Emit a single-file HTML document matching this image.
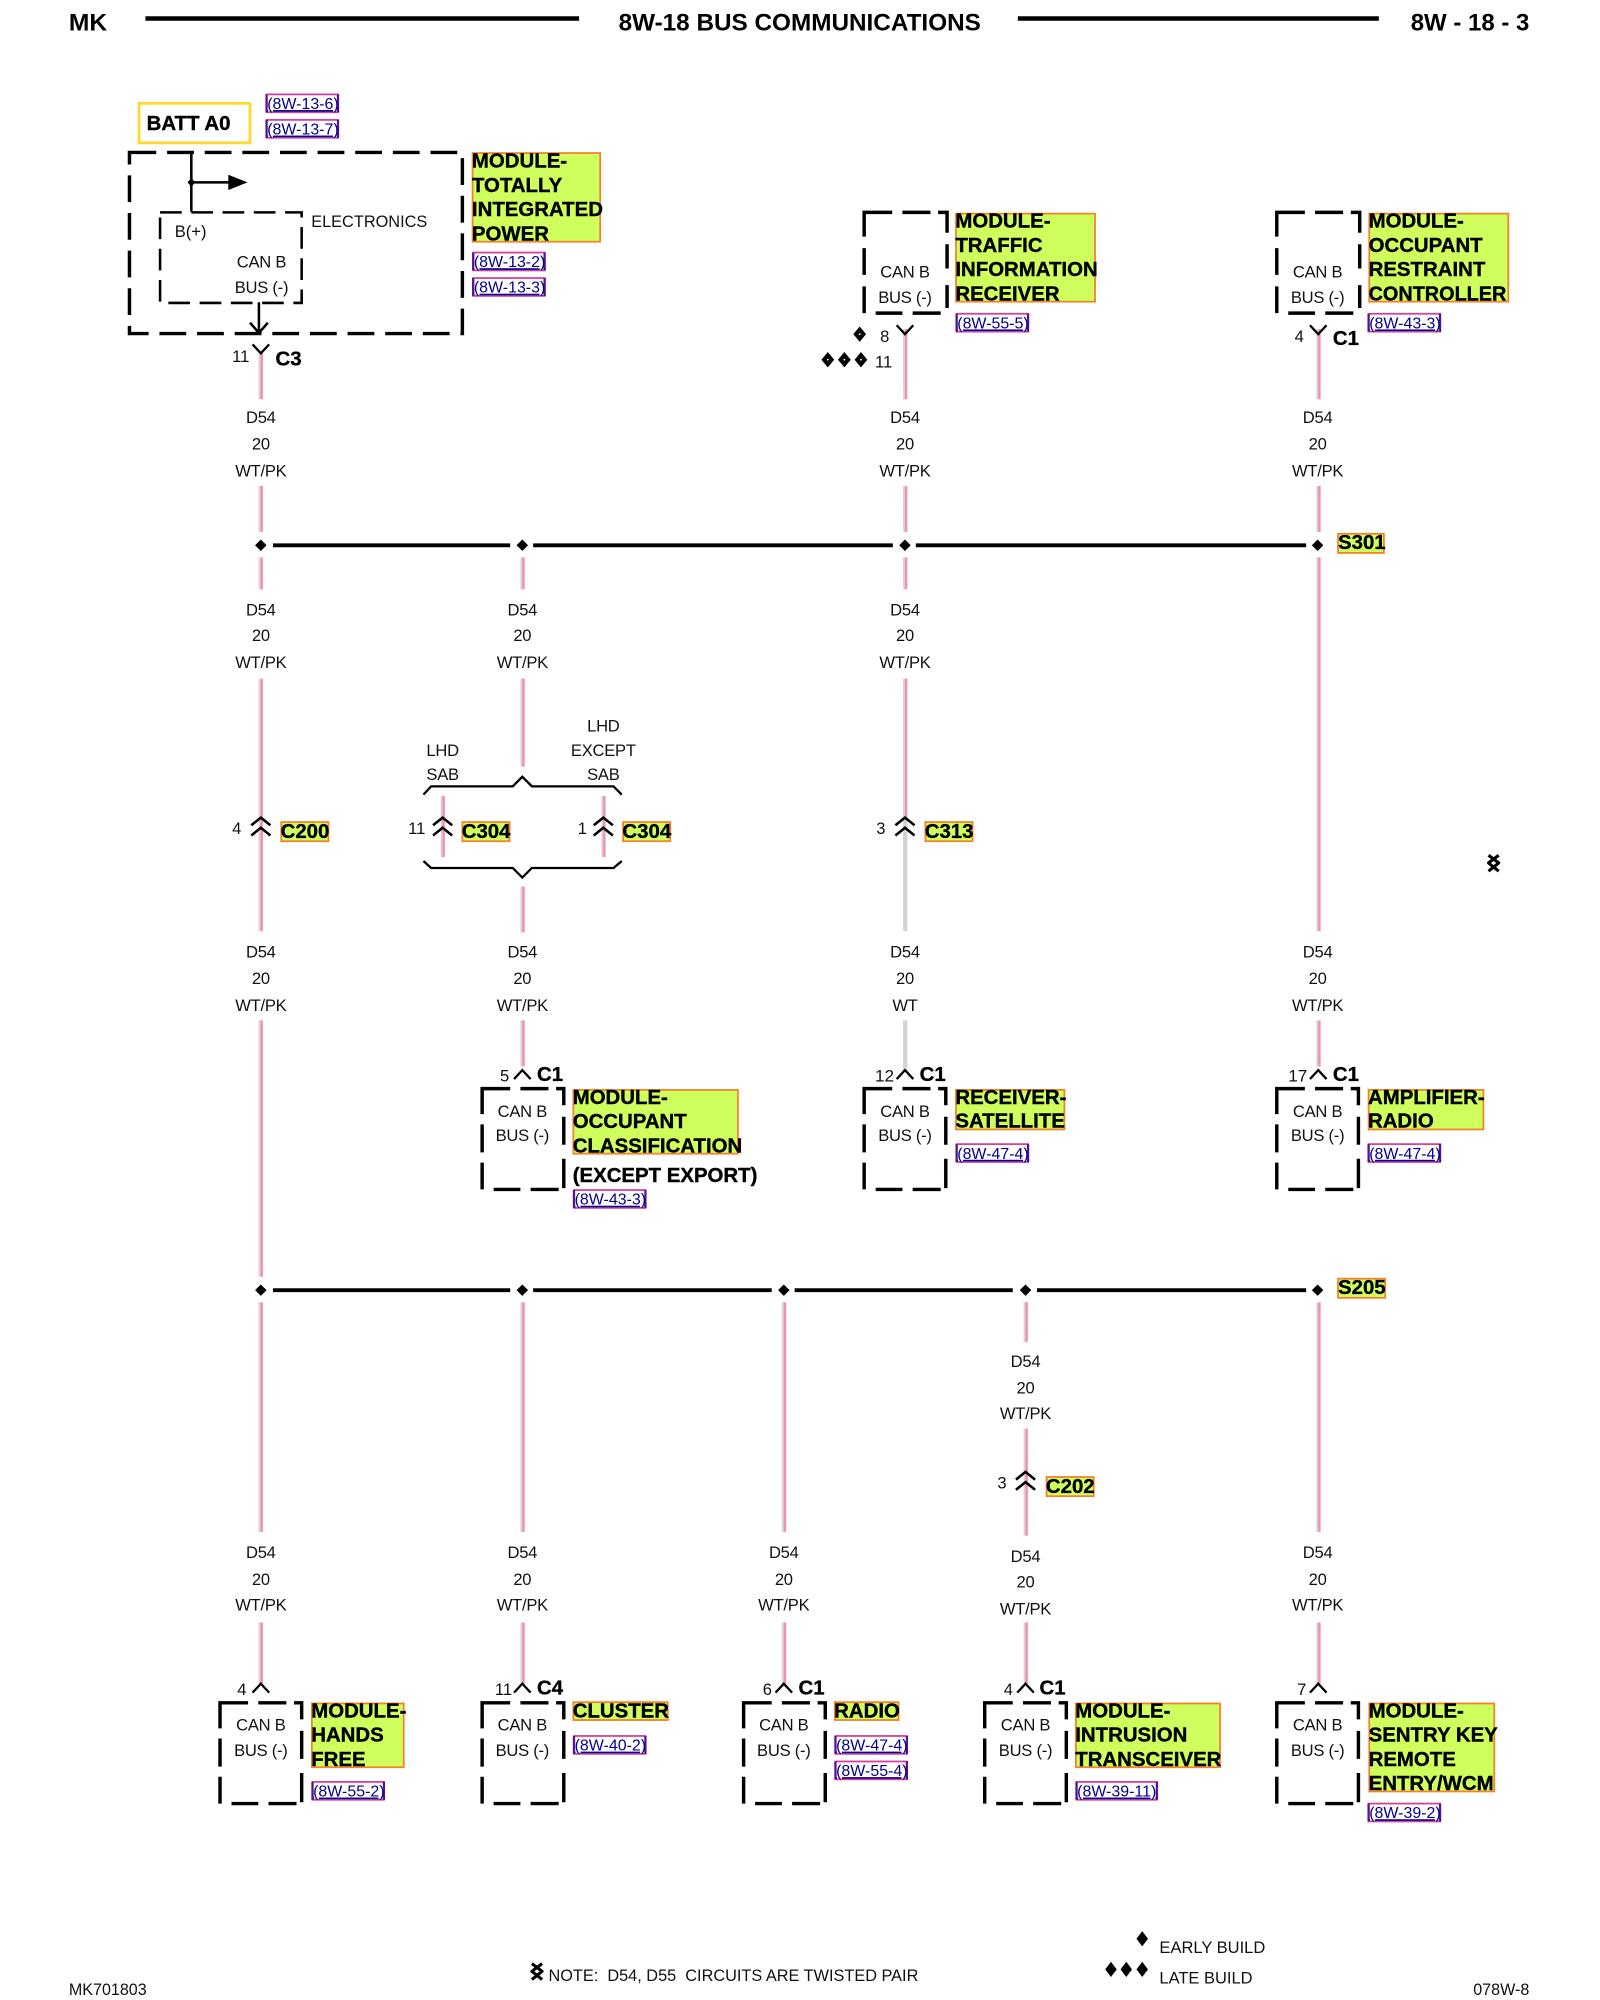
<!DOCTYPE html>
<html><head><meta charset="utf-8"><title>8W-18 Bus Communications</title>
<style>
html,body{margin:0;padding:0;background:#fff}
svg{display:block}
text{font-family:"Liberation Sans",sans-serif;fill:#111}
.l{font-size:13px;text-anchor:middle;letter-spacing:-.2px;transform:translateY(-.4px)}
.n{font-size:13px}
.m{font-size:16px;font-weight:bold;fill:#000;stroke:#000;stroke-width:.3;transform:translateY(-.5px)}
.c{font-size:16px;font-weight:bold;fill:#000;stroke:#000;stroke-width:.25;transform:translateY(-.5px)}
.h{font-size:19px;font-weight:bold;fill:#000}
.hl{fill:#ceff5c;stroke:#f5822a;stroke-width:1.4}
.r{font-size:12.5px;fill:#00008a;text-decoration:underline}
.rb{fill:#fff;stroke:#d83fa0;stroke-width:1.4}
.rs{stroke:#5a1090;stroke-width:1.8;fill:none}
.d{fill:none;stroke:#000;stroke-width:2.7}
.d2{fill:none;stroke:#000;stroke-width:2}
.th{fill:none;stroke:#000;stroke-width:1.8}
.bus{stroke:#000;stroke-width:3;fill:none}
.wg{stroke:#dcd2d6;stroke-width:1.6}
.wp{stroke:#f48fae;stroke-width:1.9}
.wy{stroke:#d2d2d2;stroke-width:3.4}
</style></head><body>
<svg xmlns="http://www.w3.org/2000/svg" width="1600" height="2000" viewBox="0 0 1254.4 1568">
<rect x="0" y="0" width="1254.4" height="1568" fill="#fff"/>

<!-- header -->
<text class="h" x="54" y="24" textLength="30" lengthAdjust="spacingAndGlyphs">MK</text>
<line class="bus" x1="114" y1="14.5" x2="454" y2="14.5" style="stroke-width:3.5"/>
<text class="h" x="485" y="24" textLength="284" lengthAdjust="spacingAndGlyphs">8W-18 BUS COMMUNICATIONS</text>
<line class="bus" x1="798" y1="14.5" x2="1081" y2="14.5" style="stroke-width:3.5"/>
<text class="h" x="1106" y="24" textLength="93" lengthAdjust="spacingAndGlyphs">8W - 18 - 3</text>

<!-- wires pink -->
<g>
<path class="wg" d="M203.5 277V313M203.5 381V417M203.5 437V462M203.5 532V730M203.5 800V1001M203.5 1021V1201M203.5 1272V1320"/>
<path class="wp" d="M205.2 277V313M205.2 381V417M205.2 437V462M205.2 532V730M205.2 800V1001M205.2 1021V1201M205.2 1272V1320"/>
<path class="wg" d="M408.8 437V462M408.8 532V601M408.8 695V731M408.8 800V836M408.8 1021V1201M408.8 1272V1320"/>
<path class="wp" d="M410.4 437V462M410.4 532V601M410.4 695V731M410.4 800V836M410.4 1021V1201M410.4 1272V1320"/>
<path class="wg" d="M346.3 624V672M472.3 624V672"/>
<path class="wp" d="M347.8 624V672M473.8 624V672"/>
<path class="wg" d="M708.8 258V313M708.8 381V417M708.8 437V462M708.8 532V642"/>
<path class="wp" d="M710.4 258V313M710.4 381V417M710.4 437V462M710.4 532V642"/>
<path class="wy" d="M709.7 642V730M709.7 800V840"/>
<path class="wg" d="M1032.8 258V313M1032.8 381V417M1032.8 437V730M1032.8 800V836M1032.8 1021V1201M1032.8 1272V1320"/>
<path class="wp" d="M1034.4 258V313M1034.4 381V417M1034.4 437V730M1034.4 800V836M1034.4 1021V1201M1034.4 1272V1320"/>
<path class="wg" d="M613.8 1021V1201M613.8 1272V1320"/>
<path class="wp" d="M615.4 1021V1201M615.4 1272V1320"/>
<path class="wg" d="M803.3 1021V1052M803.3 1120V1204M803.3 1272V1320"/>
<path class="wp" d="M804.9 1021V1052M804.9 1120V1204M804.9 1272V1320"/>
</g>

<!-- buses -->
<path class="bus" d="M214 427.5H400M418 427.5H700M718 427.5H1024"/>
<path class="bus" d="M214 1011.5H400M418 1011.5H605M623 1011.5H794M813 1011.5H1024"/>
<g fill="#000">
<path d="M204.5 423l4.5 4.5-4.5 4.5-4.5-4.5zM409.5 423l4.5 4.5-4.5 4.5-4.5-4.5zM709.5 423l4.5 4.5-4.5 4.5-4.5-4.5zM1033 423l4.5 4.5-4.5 4.5-4.5-4.5z"/>
<path d="M204.5 1007l4.5 4.5-4.5 4.5-4.5-4.5zM409.5 1007l4.5 4.5-4.5 4.5-4.5-4.5zM614.5 1007l4.5 4.5-4.5 4.5-4.5-4.5zM804 1007l4.5 4.5-4.5 4.5-4.5-4.5zM1033 1007l4.5 4.5-4.5 4.5-4.5-4.5z"/>
</g>
<rect class="hl" x="1049" y="418.5" width="36" height="15"/><text class="c" x="1049" y="431">S301</text>
<rect class="hl" x="1049" y="1002.5" width="37" height="15"/><text class="c" x="1049" y="1015">S205</text>

<!-- top-left module -->
<rect x="109" y="81" width="87" height="31" fill="#fff" stroke="#ffd92e" stroke-width="2.2"/>
<text x="115" y="102" font-size="16" font-weight="bold" style="fill:#000;stroke:#000;stroke-width:.3">BATT A0</text>
<rect class="rb" x="209" y="74" width="56" height="14"/><path class="rs" d="M209 74V88M265 74V88"/><text class="r" x="209.5" y="85.5">(8W-13-6)</text>
<rect class="rb" x="209" y="94" width="56" height="14"/><path class="rs" d="M209 94V108M265 94V108"/><text class="r" x="209.5" y="105.5">(8W-13-7)</text>
<rect class="d" x="101.5" y="119.5" width="261" height="142" stroke-dasharray="21 8.5"/>
<line x1="150" y1="119" x2="150" y2="166" stroke="#000" stroke-width="2"/>
<line x1="150" y1="143" x2="180" y2="143" stroke="#000" stroke-width="2"/>
<path d="M179 137L194 143L179 149Z M150 139.5l3 3.5-3 3.5-3-3.5Z" fill="#000"/>
<rect class="d2" x="125.5" y="166.5" width="111" height="71" stroke-dasharray="17 7.5"/>
<path d="M203 237V261M196 253l7 8 7-8" fill="none" stroke="#000" stroke-width="2"/>
<text class="n" x="137" y="186">B(+)</text>
<text class="n" x="244" y="178" textLength="91" lengthAdjust="spacingAndGlyphs">ELECTRONICS</text>
<text class="l" x="205" y="210">CAN B</text>
<text class="l" x="205" y="230">BUS (-)</text>
<path class="th" d="M198 270l6.5 7 6.5-7"/>
<text class="n" x="182" y="284">11</text>
<text class="c" x="216" y="287">C3</text>
<rect class="hl" x="370.5" y="120" width="100" height="69.5"/>
<text class="m"><tspan x="370" y="132">MODULE-</tspan><tspan x="370" y="151">TOTALLY</tspan><tspan x="370" y="170">INTEGRATED</tspan><tspan x="370" y="189">POWER</tspan></text>
<rect class="rb" x="371" y="198" width="56" height="14"/><path class="rs" d="M371 198V212M427 198V212"/><text class="r" x="371.5" y="209.5">(8W-13-2)</text>
<rect class="rb" x="371" y="218" width="56" height="14"/><path class="rs" d="M371 218V232M427 218V232"/><text class="r" x="371.5" y="229.5">(8W-13-3)</text>

<!-- box template repeated -->
<g class="d">
<path class="d" transform="translate(677.5 166.5)" d="M0 19V0H22M30 0H52M58 0H65V16M65 25V44M65 57V75M0 28V49M0 58V79M9 79H30M38 79H60"/>
<path class="d" transform="translate(1001 166.5)" d="M0 19V0H22M30 0H52M58 0H65V16M65 25V44M65 57V75M0 28V49M0 58V79M9 79H30M38 79H60"/>
<path class="d" transform="translate(378 853.5)" d="M0 20V0H22M30 0H52M58 0H64V13M64 22V44M64 55V78M0 28V50M0 58V79M9 79H30M38 79H60"/>
<path class="d" transform="translate(677.5 853.5)" d="M0 20V0H22M30 0H52M58 0H64V13M64 22V44M64 55V78M0 28V50M0 58V79M9 79H30M38 79H60"/>
<path class="d" transform="translate(1001 853.5)" d="M0 20V0H22M30 0H52M58 0H64V13M64 22V44M64 55V78M0 28V50M0 58V79M9 79H30M38 79H60"/>
<path class="d" transform="translate(172.5 1335)" d="M0 20V0H22M30 0H52M58 0H64V13M64 22V44M64 55V78M0 28V50M0 58V79M9 79H30M38 79H60"/>
<path class="d" transform="translate(378 1335)" d="M0 20V0H22M30 0H52M58 0H64V13M64 22V44M64 55V78M0 28V50M0 58V79M9 79H30M38 79H60"/>
<path class="d" transform="translate(583 1335)" d="M0 20V0H22M30 0H52M58 0H64V13M64 22V44M64 55V78M0 28V50M0 58V79M9 79H30M38 79H60"/>
<path class="d" transform="translate(772 1335)" d="M0 20V0H22M30 0H52M58 0H64V13M64 22V44M64 55V78M0 28V50M0 58V79M9 79H30M38 79H60"/>
<path class="d" transform="translate(1001 1335)" d="M0 20V0H22M30 0H52M58 0H64V13M64 22V44M64 55V78M0 28V50M0 58V79M9 79H30M38 79H60"/>
</g>

<!-- top mid module -->
<text class="l" x="709.5" y="218">CAN B</text><text class="l" x="709.5" y="238">BUS (-)</text>
<rect class="hl" x="749.5" y="167.5" width="109" height="69"/>
<text class="m"><tspan x="749" y="179">MODULE-</tspan><tspan x="749" y="198">TRAFFIC</tspan><tspan x="749" y="217">INFORMATION</tspan><tspan x="749" y="236">RECEIVER</tspan></text>
<rect class="rb" x="750" y="246" width="56" height="14"/><path class="rs" d="M750 246V260M806 246V260"/><text class="r" x="750.5" y="257.5">(8W-55-5)</text>
<path class="th" d="M703 255l6.5 7 6.5-7"/>
<path d="M674 256l5 6-5 6-5-6zM649 276l5 6-5 6-5-6zM662 276l5 6-5 6-5-6zM675 276l5 6-5 6-5-6z" fill="#000"/>
<circle cx="674" cy="262" r=".7" fill="#fff"/><circle cx="649" cy="282" r=".7" fill="#fff"/><circle cx="662" cy="282" r=".7" fill="#fff"/><circle cx="675" cy="282" r=".7" fill="#fff"/>
<text class="n" x="690" y="268">8</text><text class="n" x="686" y="288">11</text>

<!-- top right module -->
<text class="l" x="1033" y="218">CAN B</text><text class="l" x="1033" y="238">BUS (-)</text>
<rect class="hl" x="1073.5" y="167.5" width="109" height="69"/>
<text class="m"><tspan x="1073" y="179">MODULE-</tspan><tspan x="1073" y="198">OCCUPANT</tspan><tspan x="1073" y="217">RESTRAINT</tspan><tspan x="1073" y="236" textLength="108" lengthAdjust="spacingAndGlyphs">CONTROLLER</tspan></text>
<rect class="rb" x="1073" y="246" width="56" height="14"/><path class="rs" d="M1073 246V260M1129 246V260"/><text class="r" x="1073.5" y="257.5">(8W-43-3)</text>
<path class="th" d="M1027 255l6.5 7 6.5-7"/>
<text class="n" x="1015" y="268">4</text><text class="c" x="1045" y="271">C1</text>

<!-- wire labels -->
<text class="l" x="204.500" y="332">D54</text><text class="l" x="204.500" y="353">20</text><text class="l" x="204.500" y="374">WT/PK</text>
<text class="l" x="709.500" y="332">D54</text><text class="l" x="709.500" y="353">20</text><text class="l" x="709.500" y="374">WT/PK</text>
<text class="l" x="1033" y="332">D54</text><text class="l" x="1033" y="353">20</text><text class="l" x="1033" y="374">WT/PK</text>

<text class="l" x="204.500" y="483">D54</text><text class="l" x="204.500" y="503">20</text><text class="l" x="204.500" y="524">WT/PK</text>
<text class="l" x="409.500" y="483">D54</text><text class="l" x="409.500" y="503">20</text><text class="l" x="409.500" y="524">WT/PK</text>
<text class="l" x="709.500" y="483">D54</text><text class="l" x="709.500" y="503">20</text><text class="l" x="709.500" y="524">WT/PK</text>

<text class="l" x="204.500" y="751">D54</text><text class="l" x="204.500" y="772">20</text><text class="l" x="204.500" y="793">WT/PK</text>
<text class="l" x="409.500" y="751">D54</text><text class="l" x="409.500" y="772">20</text><text class="l" x="409.500" y="793">WT/PK</text>
<text class="l" x="709.500" y="751">D54</text><text class="l" x="709.500" y="772">20</text><text class="l" x="709.500" y="793">WT</text>
<text class="l" x="1033" y="751">D54</text><text class="l" x="1033" y="772">20</text><text class="l" x="1033" y="793">WT/PK</text>

<text class="l" x="804" y="1072">D54</text><text class="l" x="804" y="1093">20</text><text class="l" x="804" y="1113">WT/PK</text>

<text class="l" x="204.500" y="1222">D54</text><text class="l" x="204.500" y="1243">20</text><text class="l" x="204.500" y="1263">WT/PK</text>
<text class="l" x="409.500" y="1222">D54</text><text class="l" x="409.500" y="1243">20</text><text class="l" x="409.500" y="1263">WT/PK</text>
<text class="l" x="614.500" y="1222">D54</text><text class="l" x="614.500" y="1243">20</text><text class="l" x="614.500" y="1263">WT/PK</text>
<text class="l" x="804" y="1225">D54</text><text class="l" x="804" y="1245">20</text><text class="l" x="804" y="1266">WT/PK</text>
<text class="l" x="1033" y="1222">D54</text><text class="l" x="1033" y="1243">20</text><text class="l" x="1033" y="1263">WT/PK</text>

<!-- inline connectors -->
<g fill="none" stroke="#000" stroke-width="2">
<path d="M197 647l7.500-6 7.500 6M197 655l7.500-6 7.500 6"/>
<path d="M339.500 647l7.500-6 7.500 6M339.500 655l7.500-6 7.500 6"/>
<path d="M465.500 647l7.500-6 7.500 6M465.500 655l7.500-6 7.500 6"/>
<path d="M702 647l7.500-6 7.500 6M702 655l7.500-6 7.500 6"/>
<path d="M796.500 1160l7.500-6 7.500 6M796.500 1168l7.500-6 7.500 6"/>
</g>
<text class="n" x="182" y="654">4</text>
<text class="n" x="320" y="654">11</text>
<text class="n" x="453" y="654">1</text>
<text class="n" x="687" y="654">3</text>
<text class="n" x="782" y="1167">3</text>
<rect class="hl" x="220.500" y="644.500" width="37" height="15"/><text class="c" x="220" y="657.500">C200</text>
<rect class="hl" x="362.500" y="644.500" width="37" height="15"/><text class="c" x="362" y="657.500">C304</text>
<rect class="hl" x="488.500" y="644.500" width="37" height="15"/><text class="c" x="488" y="657.500">C304</text>
<rect class="hl" x="725.500" y="644.500" width="37" height="15"/><text class="c" x="725" y="657.500">C313</text>
<rect class="hl" x="820.500" y="1158" width="37" height="15"/><text class="c" x="820" y="1171">C202</text>

<!-- braces -->
<path class="th" d="M332 623l6-6.500H402l7.500-7.500 7.500 7.500H481l6.500 6.500"/>
<path class="th" d="M332 675l6 5.500H402l7.500 7.500 7.500-7.500H481l6.500-5.500"/>
<text class="l" x="347" y="593">LHD</text><text class="l" x="347" y="612">SAB</text>
<text class="l" x="473" y="574">LHD</text><text class="l" x="473" y="593">EXCEPT</text><text class="l" x="473" y="612">SAB</text>

<!-- twist mark -->
<path d="M1167 670.500l8 6-8 6.500M1175 670.500l-8 6 8 6.500" fill="none" stroke="#000" stroke-width="2.400" stroke-linejoin="round"/>
<path d="M417 1539.500l8 6-8 6.500M425 1539.500l-8 6 8 6.500" fill="none" stroke="#000" stroke-width="2.400" stroke-linejoin="round"/>

<!-- middle row -->
<path class="th" d="M403 846l6.500-7 6.500 7M703 846l6.500-7 6.500 7M1027 846l6.500-7 6.500 7"/>
<text class="n" x="392" y="848">5</text><text class="c" x="421" y="848">C1</text>
<text class="n" x="686" y="848" textLength="15" lengthAdjust="spacingAndGlyphs">12</text><text class="c" x="721" y="848">C1</text>
<text class="n" x="1010" y="848" textLength="15" lengthAdjust="spacingAndGlyphs">17</text><text class="c" x="1045" y="848">C1</text>
<text class="l" x="409.500" y="876">CAN B</text><text class="l" x="409.500" y="895">BUS (-)</text>
<text class="l" x="709.500" y="876">CAN B</text><text class="l" x="709.500" y="895">BUS (-)</text>
<text class="l" x="1033" y="876">CAN B</text><text class="l" x="1033" y="895">BUS (-)</text>
<rect class="hl" x="449.500" y="854.500" width="129" height="50"/>
<text class="m"><tspan x="449" y="866">MODULE-</tspan><tspan x="449" y="885">OCCUPANT</tspan><tspan x="449" y="904">CLASSIFICATION</tspan></text>
<text class="m" x="449" y="927">(EXCEPT EXPORT)</text>
<rect class="rb" x="450" y="933" width="56" height="14"/><path class="rs" d="M450 933V947M506 933V947"/><text class="r" x="450.500" y="944.500">(8W-43-3)</text>
<rect class="hl" x="749.500" y="854.500" width="85" height="31"/>
<text class="m"><tspan x="749" y="866">RECEIVER-</tspan><tspan x="749" y="884.500">SATELLITE</tspan></text>
<rect class="rb" x="750" y="897" width="56" height="14"/><path class="rs" d="M750 897V911M806 897V911"/><text class="r" x="750.500" y="908.500">(8W-47-4)</text>
<rect class="hl" x="1073" y="854.500" width="90" height="31"/>
<text class="m"><tspan x="1072.500" y="866">AMPLIFIER-</tspan><tspan x="1072.500" y="884.500">RADIO</tspan></text>
<rect class="rb" x="1073" y="897" width="56" height="14"/><path class="rs" d="M1073 897V911M1129 897V911"/><text class="r" x="1073.500" y="908.500">(8W-47-4)</text>

<!-- bottom row -->
<path class="th" d="M198 1327l6.500-7 6.500 7M403 1327l6.500-7 6.500 7M608 1327l6.500-7 6.500 7M797.500 1327l6.500-7 6.500 7M1027 1327l6.500-7 6.500 7"/>
<text class="n" x="186" y="1329">4</text>
<text class="n" x="388" y="1329">11</text><text class="c" x="421" y="1329">C4</text>
<text class="n" x="598" y="1329">6</text><text class="c" x="626" y="1329">C1</text>
<text class="n" x="787" y="1329">4</text><text class="c" x="815" y="1329">C1</text>
<text class="n" x="1017" y="1329">7</text>
<text class="l" x="204.500" y="1357">CAN B</text><text class="l" x="204.500" y="1377">BUS (-)</text>
<text class="l" x="409.500" y="1357">CAN B</text><text class="l" x="409.500" y="1377">BUS (-)</text>
<text class="l" x="614.500" y="1357">CAN B</text><text class="l" x="614.500" y="1377">BUS (-)</text>
<text class="l" x="804" y="1357">CAN B</text><text class="l" x="804" y="1377">BUS (-)</text>
<text class="l" x="1033" y="1357">CAN B</text><text class="l" x="1033" y="1377">BUS (-)</text>

<rect class="hl" x="244.500" y="1335.500" width="72" height="50"/>
<text class="m"><tspan x="244" y="1347">MODULE-</tspan><tspan x="244" y="1366">HANDS</tspan><tspan x="244" y="1385">FREE</tspan></text>
<rect class="rb" x="245" y="1397" width="56" height="14"/><path class="rs" d="M245 1397V1411M301 1397V1411"/><text class="r" x="245.500" y="1408.500">(8W-55-2)</text>

<rect class="hl" x="449.500" y="1334.500" width="74" height="14"/>
<text class="m" x="449" y="1347">CLUSTER</text>
<rect class="rb" x="450" y="1361" width="56" height="14"/><path class="rs" d="M450 1361V1375M506 1361V1375"/><text class="r" x="450.500" y="1372.500">(8W-40-2)</text>

<rect class="hl" x="654.500" y="1334.500" width="50" height="14"/>
<text class="m" x="654" y="1347">RADIO</text>
<rect class="rb" x="655" y="1361" width="56" height="14"/><path class="rs" d="M655 1361V1375M711 1361V1375"/><text class="r" x="655.500" y="1372.500">(8W-47-4)</text>
<rect class="rb" x="655" y="1381" width="56" height="14"/><path class="rs" d="M655 1381V1395M711 1381V1395"/><text class="r" x="655.500" y="1392.500">(8W-55-4)</text>

<rect class="hl" x="843.500" y="1335.500" width="113" height="50"/>
<text class="m"><tspan x="843" y="1347">MODULE-</tspan><tspan x="843" y="1366">INTRUSION</tspan><tspan x="843" y="1385">TRANSCEIVER</tspan></text>
<rect class="rb" x="844" y="1397" width="63" height="14"/><path class="rs" d="M844 1397V1411M907 1397V1411"/><text class="r" x="844.500" y="1408.500">(8W-39-11)</text>

<rect class="hl" x="1073.500" y="1335.500" width="98" height="69"/>
<text class="m"><tspan x="1073" y="1347">MODULE-</tspan><tspan x="1073" y="1366">SENTRY KEY</tspan><tspan x="1073" y="1385">REMOTE</tspan><tspan x="1073" y="1404">ENTRY/WCM</tspan></text>
<rect class="rb" x="1073" y="1414" width="56" height="14"/><path class="rs" d="M1073 1414V1428M1129 1414V1428"/><text class="r" x="1073.500" y="1425.500">(8W-39-2)</text>

<!-- footer -->
<text class="n" x="54" y="1564" textLength="61" lengthAdjust="spacingAndGlyphs">MK701803</text>
<text class="n" x="430" y="1553" textLength="290" lengthAdjust="spacingAndGlyphs" xml:space="preserve">NOTE:  D54, D55  CIRCUITS ARE TWISTED PAIR</text>
<path d="M895.500 1514l4.500 6-4.500 6-4.500-6zM871 1538l4.500 6-4.500 6-4.500-6zM883 1538l4.500 6-4.500 6-4.500-6zM895.500 1538l4.500 6-4.500 6-4.500-6z" fill="#000"/>
<text class="n" x="909" y="1531" textLength="83" lengthAdjust="spacingAndGlyphs">EARLY BUILD</text>
<text class="n" x="909" y="1555" textLength="73" lengthAdjust="spacingAndGlyphs">LATE BUILD</text>
<text class="n" x="1155" y="1564" textLength="44" lengthAdjust="spacingAndGlyphs">078W-8</text>
</svg>
</body></html>
